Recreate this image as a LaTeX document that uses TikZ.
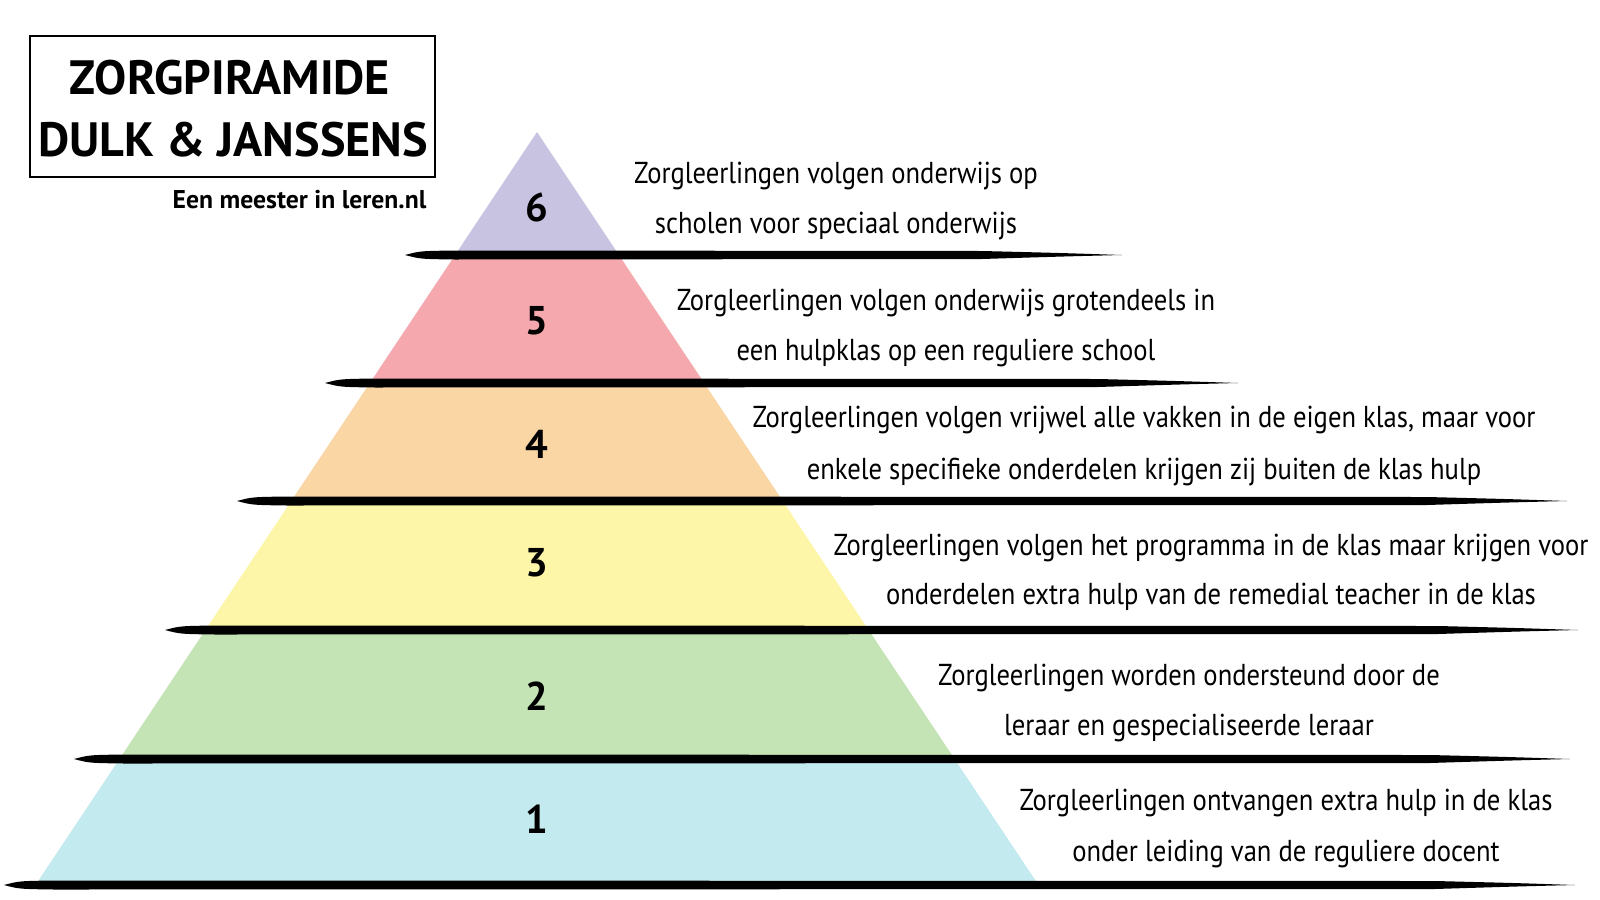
\documentclass[tikz,border=0pt]{standalone}
\usepackage{fontspec}
\setmainfont{PT Sans}
\newfontfamily\handfont[FakeStretch=0.88]{PT Sans}

\definecolor{lay6}{HTML}{C7C3E1}
\definecolor{lay5}{HTML}{F5A9AE}
\definecolor{lay4}{HTML}{FAD6A5}
\definecolor{lay3}{HTML}{FDF5A8}
\definecolor{lay2}{HTML}{C5E4B5}
\definecolor{lay1}{HTML}{C3EAEE}

\tikzset{
  txt/.style={font=\handfont\fontsize{8.6}{10}\selectfont, inner sep=0pt, anchor=base},
  num/.style={font=\bfseries\fontsize{11.4}{12}\selectfont, inner sep=0pt},
  titletxt/.style={font=\bfseries\fontsize{13.7}{14}\selectfont, inner sep=0pt}
}

\begin{document}
\begin{tikzpicture}[x=0.01cm, y=-0.01cm]
\useasboundingbox (0,0) rectangle (1600,900);

% pyramid layers
\foreach \ya/\yb/\col in {132/255/lay6, 255/383/lay5, 383/501/lay4, 501/628/lay3, 628/759/lay2, 759/881/lay1}{
  \fill[\col] ({537-0.666*(\ya-132)},\ya) -- ({537+0.666*(\ya-132)},\ya)
    -- ({537+0.666*(\yb-132)},\yb) -- ({537-0.666*(\yb-132)},\yb) -- cycle;
}

% brush strokes
\foreach \xl/\xr/\yy in {405/1122/255, 325/1238/383, 237/1567/501, 165/1578/630, 74/1570/759, 4/1575/885}{
  \fill (\xl,\yy) .. controls (\xl+15,\yy-4) .. (\xl+50,\yy-4.5) -- (\xr-140,\yy-4)
    .. controls (\xr-60,\yy-2) .. (\xr,\yy) .. controls (\xr-60,\yy+1.5) .. (\xr-140,\yy+4)
    -- (\xl+50,\yy+4.5) .. controls (\xl+15,\yy+4) .. (\xl,\yy) -- cycle;
}

% numbers
\node[num] (n6) at (537,207) {6};
\node[num] (n5) at (537,321) {5};
\node[num] (n4) at (537,444) {4};
\node[num] (n3) at (537,563) {3};
\node[num] (n2) at (537,696) {2};
\node[num] (n1) at (537,819) {1};

% descriptions
\node[txt] (t6a) at (836,183) {Zorgleerlingen volgen onderwijs op};
\node[txt] (t6b) at (836,233) {scholen voor speciaal onderwijs};
\node[txt] (t5a) at (946,310) {Zorgleerlingen volgen onderwijs grotendeels in};
\node[txt] (t5b) at (946,360) {een hulpklas op een reguliere school};
\node[txt] (t4a) at (1144,427) {Zorgleerlingen volgen vrijwel alle vakken in de eigen klas, maar voor};
\node[txt] (t4b) at (1144,479) {enkele specifieke onderdelen krijgen zij buiten de klas hulp};
\node[txt] (t3a) at (1211,555) {Zorgleerlingen volgen het programma in de klas maar krijgen voor};
\node[txt] (t3b) at (1211,604) {onderdelen extra hulp van de remedial teacher in de klas};
\node[txt] (t2a) at (1189,685) {Zorgleerlingen worden ondersteund door de};
\node[txt] (t2b) at (1189,735) {leraar en gespecialiseerde leraar};
\node[txt] (t1a) at (1286,810) {Zorgleerlingen ontvangen extra hulp in de klas};
\node[txt] (t1b) at (1286,861) {onder leiding van de reguliere docent};

% title
\draw[line width=0.7pt] (30,36) rectangle (435,177);
\node[titletxt] (title1) at (230,78) {ZORGPIRAMIDE};
\node[titletxt] (title2) at (233,140) {DULK \& JANSSENS};
\node[font=\bfseries\fontsize{7.3}{8}\selectfont, inner sep=0pt, anchor=base east] (sub) at (427,208) {Een meester in leren.nl};
\end{tikzpicture}
\end{document}
